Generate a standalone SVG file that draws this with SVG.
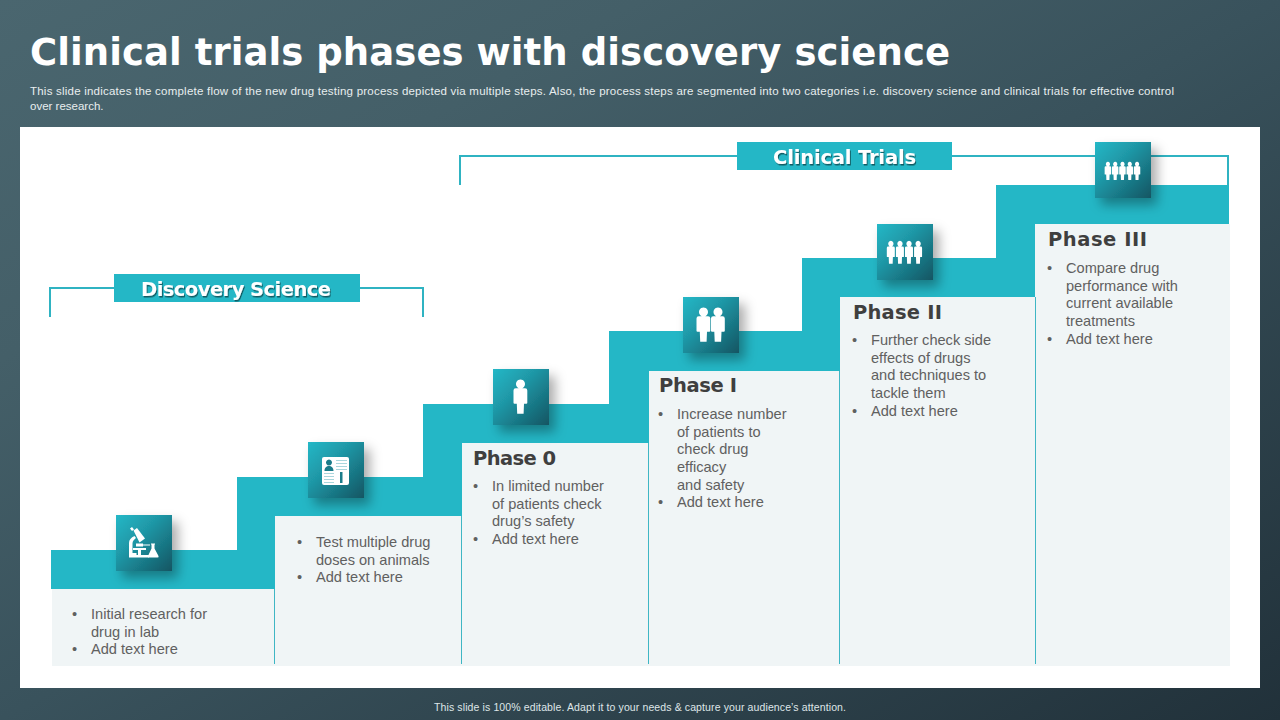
<svg xmlns="http://www.w3.org/2000/svg" width="1280" height="720" viewBox="0 0 1280 720">
<style>
.title{font:bold 37px "DejaVu Sans",sans-serif;fill:#fff}
.sub{font:11.5px "Liberation Sans",Arial,sans-serif;fill:#e8eeef}
.foot{font:10.5px "Liberation Sans",Arial,sans-serif;fill:#dfe6e8}
.body{font:14.6px "Liberation Sans",Arial,sans-serif;fill:#606060}
.phase{font:bold 19.5px "DejaVu Sans",sans-serif;fill:#3f3f3f}
.tag{font:bold 19.5px "DejaVu Sans",sans-serif;fill:#fff}
.bracket{fill:none;stroke:#2fb3c2;stroke-width:2}
.div{stroke:#3fb6c4;stroke-width:1;fill:none}
.tile{fill:url(#tile);filter:url(#shadow)}
</style>
<defs>
<linearGradient id="bg" x1="0" y1="0" x2="1" y2="1">
<stop offset="0" stop-color="#4a666f"/><stop offset="0.25" stop-color="#445f68"/><stop offset="0.5" stop-color="#39525c"/><stop offset="1" stop-color="#21313a"/>
</linearGradient>
<linearGradient id="tile" x1="0" y1="0" x2="1" y2="1">
<stop offset="0" stop-color="#25b8c7"/><stop offset="0.4" stop-color="#1f97a6"/><stop offset="1" stop-color="#125562"/>
</linearGradient>
<filter id="shadow" x="-30%" y="-30%" width="170%" height="170%">
<feDropShadow dx="6" dy="7" stdDeviation="6" flood-color="#000" flood-opacity="0.33"/>
</filter>
<filter id="ts" x="-5%" y="-20%" width="110%" height="150%">
<feDropShadow dx="1" dy="1.5" stdDeviation="0.6" flood-color="#000" flood-opacity="0.5"/>
</filter>
<path id="person" fill="#fff" d="M0,-17.500a4.500,4.500 0 1 1 -.01,0zM-4.600,-8.800h9.200q2.200,0 2.200,2.200v12.400q0,1 -1,1h-2.300l-.4,10h-6.400l-.4,-10h-2.300q-1,0 -1,-1v-12.400q0,-2.200 2.200,-2.200z"/>
</defs>
<rect width="1280" height="720" fill="url(#bg)"/>
<text class="title" x="30" y="65" textLength="920">Clinical trials phases with discovery science</text>
<text class="sub" x="30" y="95" textLength="1144">This slide indicates the complete flow of the new drug testing process depicted via multiple steps. Also, the process steps are segmented into two categories i.e. discovery science and clinical trials for effective control</text>
<text class="sub" x="30" y="110">over research.</text>
<rect x="20" y="127" width="1240" height="561" fill="#fff"/>
<g id="connectors">
<path class="bracket" d="M50,317V288H114M360,288H423V317"/>
<path class="bracket" d="M460,185V156H737M952,156H1228V185"/>
</g>
<g id="cards">
<path fill="#f0f5f6" d="M52,589H275V516H462V443H649V371H840V297H1035V224H1230V666H52z"/>
<path class="div" d="M274.500,589V664M461.500,516V664M648.500,443V664M839.500,371V664M1035.500,297V664"/>
<path fill="#24b7c6" d="M51,550H237V477H423V404H609V331H802V258H996V185H1229V224H1035V297H840V371H649V443H462V516H275V589H51z"/>
</g>
<g id="tag-discovery">
<rect x="114" y="274" width="246" height="28" fill="#24b7c6"/>
<text class="tag" x="141" y="296" textLength="190" filter="url(#ts)">Discovery Science</text>
</g>
<g id="tag-clinical">
<rect x="737" y="142" width="215" height="28" fill="#24b7c6"/>
<text class="tag" x="773" y="164" textLength="143" filter="url(#ts)">Clinical Trials</text>
</g>
<g id="step-research">
<rect class="tile" x="116" y="515" width="56" height="56"/>
<g fill="#fff">
<path d="M130,528.500l2,-1.500 2,2.500 -2,1.500z"/>
<path d="M133.500,530.500l3.500,-2.500 8,10.500 -5.500,4z"/>
<path d="M136,543.500h7v3h-7z"/>
<path d="M134.500,536l1.500,2c-2,1.500 -3.500,3 -3.500,5.500v9.500h4v3.500h-7.500v-13.500c0,-3 2,-5.500 5.500,-7z"/>
<path d="M129,555h20v2.500h-20zM133,548h13v2h-13zM138,550h3v5h-3z"/>
<path d="M143,544.500h7v1h-7z"/>
<path d="M151,543.500h4v1h-.5v4l4,7.500q.5,1.500 -1,1.500h-8.500q-1.500,0 -1,-1.500l3.500,-7.500v-4h-.5z"/>
</g>
<text class="body"><tspan x="72" y="619">•</tspan><tspan x="91" y="619">Initial research for</tspan><tspan x="91" y="637">drug in lab</tspan><tspan x="72" y="654">•</tspan><tspan x="91" y="654">Add text here</tspan></text>
</g>
<g id="step-animals">
<rect class="tile" x="308" y="442" width="56" height="56"/>
<rect x="322" y="457" width="27" height="28" rx="2" fill="#fff"/>
<g fill="#1b7c8a">
<path d="M329,459.500a3,3 0 1 1 -.01,0zM324.500,471c0,-3.500 2,-5 4.500,-5s4.500,1.500 4.500,5z"/>
<g fill="#a9d6dc">
<rect x="336" y="460" width="11" height="1"/><rect x="336" y="463" width="11" height="1"/><rect x="336" y="466" width="11" height="1"/><rect x="336" y="469" width="11" height="1"/>
<rect x="324" y="473" width="10" height="1"/><rect x="324" y="476" width="10" height="1"/><rect x="324" y="479" width="10" height="1"/><rect x="324" y="482" width="10" height="1"/>
</g>
<rect x="340" y="472" width="2.500" height="11"/>
</g>
<text class="body"><tspan x="297" y="547">•</tspan><tspan x="316" y="547">Test multiple drug</tspan><tspan x="316" y="565">doses on animals</tspan><tspan x="297" y="582">•</tspan><tspan x="316" y="582">Add text here</tspan></text>
</g>
<g id="step-phase0">
<rect class="tile" x="493" y="369" width="56" height="56"/>
<use href="#person" x="520.500" y="397"/>
<text class="phase" x="473" y="465" textLength="83">Phase 0</text>
<text class="body"><tspan x="473" y="491">•</tspan><tspan x="492" y="491">In limited number</tspan><tspan x="492" y="509">of patients check</tspan><tspan x="492" y="526">drug’s safety</tspan><tspan x="473" y="544">•</tspan><tspan x="492" y="544">Add text here</tspan></text>
</g>
<g id="step-phase1">
<rect class="tile" x="683" y="297" width="56" height="56"/>
<use href="#person" x="703.500" y="325"/><use href="#person" x="718" y="325"/>
<text class="phase" x="659" y="392" textLength="78">Phase I</text>
<text class="body"><tspan x="658" y="419">•</tspan><tspan x="677" y="419">Increase number</tspan><tspan x="677" y="437">of patients to</tspan><tspan x="677" y="454">check drug</tspan><tspan x="677" y="472">efficacy</tspan><tspan x="677" y="490">and safety</tspan><tspan x="658" y="507">•</tspan><tspan x="677" y="507">Add text here</tspan></text>
</g>
<g id="step-phase2">
<rect class="tile" x="877" y="224" width="56" height="56"/>
<g transform="translate(904.500 252.500) scale(0.58 0.67)"><use href="#person" x="-23.500"/><use href="#person" x="-7.800"/><use href="#person" x="7.800"/><use href="#person" x="23.500"/></g>
<text class="phase" x="853" y="319" textLength="89">Phase II</text>
<text class="body"><tspan x="852" y="345">•</tspan><tspan x="871" y="345">Further check side</tspan><tspan x="871" y="363">effects of drugs</tspan><tspan x="871" y="380">and techniques to</tspan><tspan x="871" y="398">tackle them</tspan><tspan x="852" y="416">•</tspan><tspan x="871" y="416">Add text here</tspan></text>
</g>
<g id="step-phase3">
<rect class="tile" x="1095" y="142" width="56" height="56"/>
<g transform="translate(1122.500 171) scale(0.47 0.53)"><use href="#person" x="-31"/><use href="#person" x="-15.500"/><use href="#person"/><use href="#person" x="15.500"/><use href="#person" x="31"/></g>
<text class="phase" x="1048" y="246" textLength="99">Phase III</text>
<text class="body"><tspan x="1047" y="273">•</tspan><tspan x="1066" y="273">Compare drug</tspan><tspan x="1066" y="291">performance with</tspan><tspan x="1066" y="308">current available</tspan><tspan x="1066" y="326">treatments</tspan><tspan x="1047" y="344">•</tspan><tspan x="1066" y="344">Add text here</tspan></text>
</g>
<text class="foot" x="434" y="711" textLength="412">This slide is 100% editable.  Adapt it to your needs &amp; capture your audience’s attention.</text>
</svg>
